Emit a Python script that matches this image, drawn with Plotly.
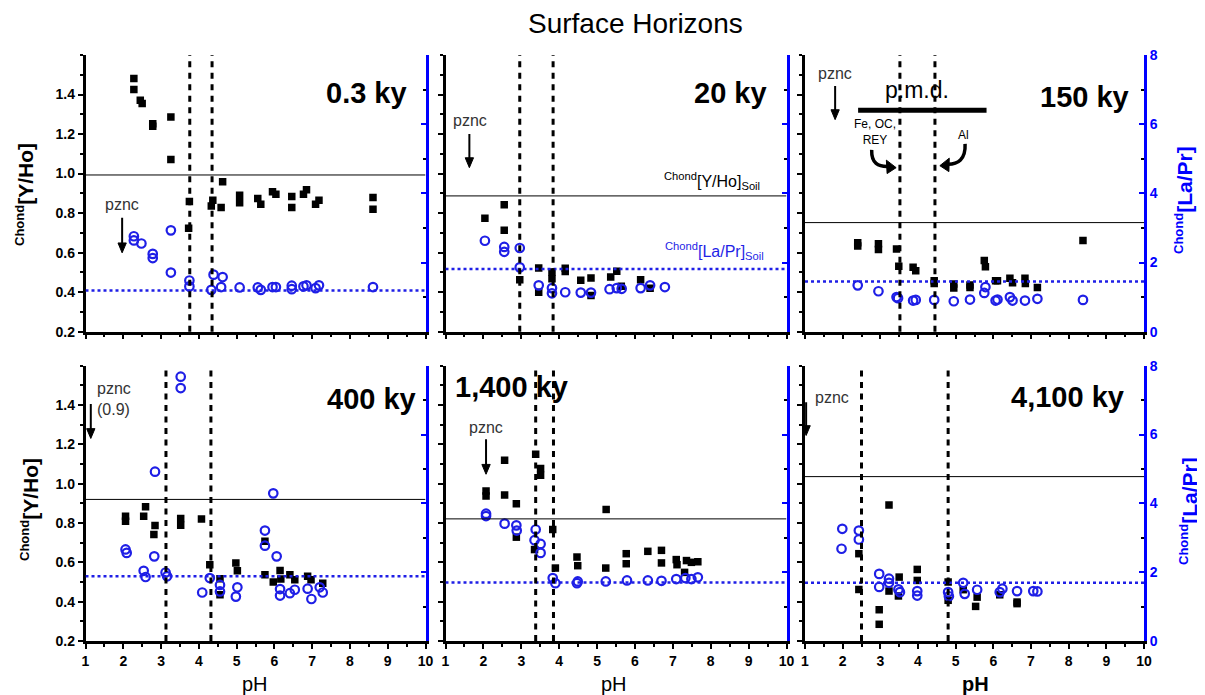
import plotly.graph_objects as go

# ---------------- data ----------------
# Panel 1: 0.3 ky
p1_sq_ph = [2.28, 2.28, 2.45, 2.50, 2.78, 2.78, 3.26, 3.26, 3.75, 3.73, 4.33, 4.37, 4.63, 4.59,
            5.08, 5.08, 5.56, 5.64, 5.95, 6.04, 6.46, 6.46, 6.77, 6.85, 7.09, 7.18, 8.61, 8.61]
p1_sq_yho = [1.481, 1.425, 1.371, 1.354, 1.252, 1.240, 1.286, 1.071, 0.859, 0.723, 0.836, 0.865, 0.959, 0.828,
             0.891, 0.853, 0.874, 0.845, 0.908, 0.896, 0.884, 0.828, 0.896, 0.918, 0.845, 0.865, 0.879, 0.819]
p1_ci_ph = [2.28, 2.28, 2.48, 2.78, 2.78, 3.26, 3.26, 3.75, 3.75, 4.33, 4.39, 4.63, 4.59, 5.08,
            5.56, 5.64, 5.95, 6.04, 6.46, 6.46, 6.77, 6.85, 7.09, 7.18, 8.61]
p1_ci_lapr = [2.76, 2.64, 2.55, 2.25, 2.13, 2.93, 1.71, 1.48, 1.31, 1.21, 1.65, 1.58, 1.29, 1.28,
              1.28, 1.21, 1.29, 1.29, 1.33, 1.23, 1.31, 1.34, 1.26, 1.34, 1.29]

# Panel 2: 20 ky
p2_sq_ph = [2.04, 2.55, 2.55, 2.96, 3.46, 3.46, 3.81, 3.81, 4.16, 4.16, 4.57, 4.84, 4.84, 5.36, 5.52, 5.64, 6.15, 6.40]
p2_sq_yho = [0.774, 0.842, 0.713, 0.463, 0.522, 0.400, 0.502, 0.468, 0.521, 0.505, 0.460, 0.472, 0.383, 0.477,
             0.506, 0.430, 0.463, 0.420]
p2_ci_ph = [2.04, 2.55, 2.55, 2.96, 2.96, 3.46, 3.81, 3.81, 4.16, 4.57, 4.84, 5.33, 5.52, 5.65, 6.15, 6.40, 6.79]
p2_ci_lapr = [2.63, 2.45, 2.31, 2.42, 1.86, 1.34, 1.26, 1.11, 1.14, 1.13, 1.13, 1.23, 1.26, 1.24, 1.26, 1.34, 1.29]

# Panel 3: 150 ky
p3_sq_ph = [2.40, 2.40, 2.95, 2.95, 3.43, 3.49, 3.87, 3.94, 4.43, 4.43, 4.95, 4.95, 5.38, 5.38, 5.76, 5.79,
            6.06, 6.11, 6.44, 6.51, 6.84, 6.85, 7.17, 8.38]
p3_sq_yho = [0.650, 0.633, 0.645, 0.616, 0.619, 0.531, 0.526, 0.509, 0.458, 0.444, 0.441, 0.421, 0.436, 0.424,
             0.560, 0.529, 0.458, 0.458, 0.470, 0.448, 0.470, 0.444, 0.424, 0.662]
p3_ci_ph = [2.40, 2.95, 3.43, 3.47, 3.87, 3.94, 4.43, 4.95, 5.38, 5.76, 5.79, 6.06, 6.11, 6.44, 6.51, 6.84, 7.17, 8.38]
p3_ci_lapr = [1.34, 1.17, 1.00, 0.97, 0.90, 0.92, 0.92, 0.88, 0.93, 1.12, 1.29, 0.90, 0.93, 1.00, 0.90, 0.90, 0.95, 0.92]

# Panel 4: 400 ky
p4_sq_ph = [2.06, 2.06, 2.54, 2.59, 2.84, 2.81, 3.52, 3.52, 4.07, 4.29, 4.56, 4.56, 4.98, 5.02, 5.75, 5.75,
            5.97, 6.15, 6.17, 6.41, 6.54, 6.88, 6.97, 7.28]
p4_sq_yho = [0.835, 0.809, 0.835, 0.883, 0.787, 0.741, 0.823, 0.789, 0.821, 0.588, 0.517, 0.435, 0.597, 0.557,
             0.707, 0.537, 0.500, 0.559, 0.515, 0.537, 0.511, 0.529, 0.511, 0.494]
p4_ci_ph = [2.06, 2.09, 2.54, 2.59, 2.84, 2.82, 3.12, 3.16, 3.52, 3.52, 4.09, 4.29, 4.56, 4.56, 4.98, 5.02,
            5.75, 5.75, 5.97, 6.06, 6.15, 6.15, 6.41, 6.54, 6.88, 6.98, 7.20, 7.28]
p4_ci_lapr = [2.66, 2.56, 2.04, 1.86, 4.92, 2.46, 1.99, 1.88, 7.68, 7.35, 1.41, 1.83, 1.63, 1.44, 1.29, 1.56,
              3.21, 2.77, 4.29, 2.46, 1.51, 1.32, 1.39, 1.49, 1.52, 1.22, 1.56, 1.41]

# Panel 5: 1,400 ky
p5_sq_ph = [2.07, 2.07, 2.56, 2.56, 2.87, 2.87, 3.38, 3.35, 3.51, 3.51, 3.83, 3.90, 4.47, 4.49, 5.24, 5.23,
            5.77, 5.77, 6.34, 6.70, 6.70, 7.09, 7.11, 7.31, 7.36, 7.49, 7.66]
p5_sq_yho = [0.963, 0.937, 1.119, 0.942, 0.898, 0.728, 1.150, 0.665, 1.077, 1.043, 0.767, 0.571, 0.627, 0.583,
             0.869, 0.571, 0.644, 0.593, 0.656, 0.661, 0.597, 0.614, 0.588, 0.549, 0.609, 0.600, 0.603]
p5_ci_ph = [2.07, 2.07, 2.56, 2.87, 2.88, 3.38, 3.35, 3.51, 3.51, 3.83, 3.90, 4.47, 4.49, 5.23, 5.79, 6.34,
            6.70, 7.09, 7.33, 7.49, 7.66]
p5_ci_lapr = [3.70, 3.63, 3.41, 3.36, 3.21, 3.24, 2.93, 2.82, 2.56, 1.83, 1.68, 1.68, 1.73, 1.73, 1.76, 1.76,
              1.75, 1.80, 1.83, 1.80, 1.85]

# Panel 6: 4,100 ky
p6_sq_ph = [3.23, 2.43, 2.43, 2.97, 2.97, 3.23, 3.48, 3.50, 3.98, 3.98, 4.80, 4.80, 5.20, 5.53, 5.57, 6.17, 6.63, 6.63]
p6_sq_yho = [0.892, 0.644, 0.462, 0.359, 0.285, 0.454, 0.429, 0.525, 0.564, 0.508, 0.500, 0.407, 0.461, 0.376,
             0.423, 0.435, 0.398, 0.390]
p6_ci_ph = [1.99, 1.97, 2.43, 2.43, 2.97, 2.97, 3.23, 3.23, 3.48, 3.52, 3.98, 3.98, 4.80, 4.82, 5.20, 5.24,
            5.57, 6.17, 6.24, 6.63, 7.06, 7.17]
p6_ci_lapr = [3.26, 2.68, 3.21, 2.95, 1.95, 1.57, 1.81, 1.69, 1.50, 1.42, 1.45, 1.32, 1.42, 1.30, 1.69, 1.37,
              1.49, 1.42, 1.52, 1.45, 1.45, 1.44]

panel_labels = ["0.3 ky", "20 ky", "150 ky", "400 ky", "1,400 ky", "4,100 ky"]
yho_soil = [0.993, 0.887, 0.752, 0.920, 0.821, 1.036]      # solid black reference line
lapr_soil = [1.19, 1.81, 1.45, 1.88, 1.70, 1.69]           # dotted blue reference line
pmd_low = [3.76, 2.96, 3.52, 3.13, 3.38, 2.50]             # dashed vertical lines
pmd_high = [4.35, 3.84, 4.45, 4.32, 3.85, 4.80]
pznc_ph = [1.97, 1.63, 1.80, 1.14, 2.07, 1.03]
pznc_labels = ["pznc", "pznc", "pznc", "pznc<br>(0.9)", "pznc", "pznc"]

x_ticks = [1, 2, 3, 4, 5, 6, 7, 8, 9, 10]
yho_ticks = [0.2, 0.4, 0.6, 0.8, 1.0, 1.2, 1.4]
lapr_ticks = [0, 2, 4, 6, 8]

# ---------------- styling ----------------
FONT = "Liberation Sans, Arial, sans-serif"
BLUE = "#1f1fe6"
AXBLUE = "#0000ff"
OFF = 8  # page body margin offset
W, H = 1205 - OFF, 695 - OFF


def fx(p):
    return (p - OFF) / W


def fy(p):
    return 1 - (p - OFF) / H


cols = [[fx(85.5), fx(425.5)], [fx(445.5), fx(786.5)], [fx(805), fx(1144)]]
rows = [[fy(331.7), fy(55)], [fy(641), fy(365.7)]]


def xn(n):
    return "x" if n == 1 else f"x{n}"


def yn(n):
    return "y" if n == 1 else f"y{n}"


fig = go.Figure()
layout = dict(
    template="none",
    width=W, height=H, margin=dict(l=0, r=0, t=0, b=0, pad=0, autoexpand=False),
    plot_bgcolor="white", paper_bgcolor="white", showlegend=False,
    font=dict(family=FONT, color="black"),
)

panels = [
    (p1_sq_ph, p1_sq_yho, p1_ci_ph, p1_ci_lapr),
    (p2_sq_ph, p2_sq_yho, p2_ci_ph, p2_ci_lapr),
    (p3_sq_ph, p3_sq_yho, p3_ci_ph, p3_ci_lapr),
    (p4_sq_ph, p4_sq_yho, p4_ci_ph, p4_ci_lapr),
    (p5_sq_ph, p5_sq_yho, p5_ci_ph, p5_ci_lapr),
    (p6_sq_ph, p6_sq_yho, p6_ci_ph, p6_ci_lapr),
]

shapes = []
annotations = []

TICKFONT = dict(size=14, weight="bold", family=FONT, color="black")

for i in range(6):
    n = i + 1
    r, c = divmod(i, 3)
    xd, yd = cols[c], rows[r]
    xa, ya, yr = xn(n), yn(n), yn(n + 6)
    bottom = (r == 1)
    layout["xaxis" if n == 1 else f"xaxis{n}"] = dict(
        domain=xd, anchor=ya, range=[1, 10], tickvals=x_ticks, ticks="outside", ticklen=5, tickwidth=2,
        tickcolor="black", showline=True, linecolor="black", linewidth=2.5, showgrid=False, zeroline=False,
        showticklabels=bottom, tickfont=TICKFONT, automargin=False,
        minor=dict(dtick=0.5, tick0=1, ticks="outside", ticklen=3, tickwidth=1.5, tickcolor="black"),
    )
    layout[f"xaxis{n+6}"] = dict(
        overlaying=xa, side="top", anchor=ya, range=[1, 10], tickvals=x_ticks, ticks="inside", ticklen=5,
        tickwidth=2, tickcolor="black", showline=True, linecolor="black", linewidth=2.5, showgrid=False,
        zeroline=False, showticklabels=False, automargin=False,
        minor=dict(dtick=0.5, tick0=1, ticks="inside", ticklen=3, tickwidth=1.5, tickcolor="black"),
    )
    layout["yaxis" if n == 1 else f"yaxis{n}"] = dict(
        domain=yd, anchor=xa, range=[0.2, 1.6], tickvals=yho_ticks, tickformat=".1f", ticks="outside",
        ticklen=5, tickwidth=2, tickcolor="black", showline=True, linecolor="black", linewidth=2.5,
        showgrid=False, zeroline=False, showticklabels=(c == 0), tickfont=TICKFONT, automargin=False,
        minor=dict(dtick=0.1, tick0=0.2, ticks="outside", ticklen=3, tickwidth=1.5, tickcolor="black"),
    )
    layout[f"yaxis{n+6}"] = dict(
        overlaying=ya, side="right", anchor=xa, range=[0, 8], tickvals=lapr_ticks, ticks="inside", ticklen=5,
        tickwidth=2, tickcolor=AXBLUE, showline=True, linecolor=AXBLUE, linewidth=3, showgrid=False,
        zeroline=False, showticklabels=(c == 2), automargin=False,
        tickfont=dict(size=14, weight="bold", family=FONT, color=AXBLUE),
        minor=dict(dtick=1, tick0=0, ticks="inside", ticklen=3, tickwidth=1.5, tickcolor="black"),
    )

    sq_ph, sq_y, ci_ph, ci_y = panels[i]
    fig.add_trace(go.Scatter(x=sq_ph, y=sq_y, xaxis=xa, yaxis=ya, mode="markers", hoverinfo="skip",
                             marker=dict(symbol="square", size=7.5, color="black")))
    fig.add_trace(go.Scatter(x=ci_ph, y=ci_y, xaxis=xa, yaxis=yr, mode="markers", hoverinfo="skip",
                             marker=dict(symbol="circle-open", size=8.5, color=BLUE,
                                         line=dict(width=2.2, color=BLUE))))

    # reference lines
    shapes.append(dict(type="line", xref=xa, yref=ya, x0=1, x1=10, y0=yho_soil[i], y1=yho_soil[i],
                       line=dict(color="black", width=1)))
    shapes.append(dict(type="line", xref=xa, yref=yr, x0=1, x1=10, y0=lapr_soil[i], y1=lapr_soil[i],
                       line=dict(color=BLUE, width=2.5, dash="dot")))
    for v in (pmd_low[i], pmd_high[i]):
        shapes.append(dict(type="line", xref=xa, yref=f"{ya} domain", x0=v, x1=v, y0=0, y1=1,
                           line=dict(color="black", width=3, dash="6px,5.5px")))

# panel labels
label_pos = [(9.56, 1.41, "right"), (9.53, 1.41, "right"), (9.66, 1.39, "right"),
             (9.81, 1.43, "right"), (1.19, 1.49, "left"), (9.51, 1.44, "right")]
for i, (lx, ly, anc) in enumerate(label_pos):
    annotations.append(dict(text=panel_labels[i], x=lx, y=ly, xref=xn(i + 1), yref=yn(i + 1),
                            xanchor=anc, yanchor="middle", showarrow=False,
                            font=dict(size=29, weight="bold", family=FONT, color="black")))


def down_arrow(xa, ya, x, y_from, y_to, w=2.0):
    hx, hy = 0.11, 0.05
    shapes.append(dict(type="line", xref=xa, yref=ya, x0=x, x1=x, y0=y_from, y1=y_to + hy * 0.8,
                       line=dict(color="black", width=w)))
    shapes.append(dict(type="path", xref=xa, yref=ya, fillcolor="black", line=dict(color="black", width=1),
                       path=f"M {x},{y_to} L {x - hx},{y_to + hy} L {x + hx},{y_to + hy} Z"))


# pznc labels and arrows
pznc_text = [(1.97, 0.845, "center"), (1.64, 1.27, "center"), (1.80, 1.505, "center"),
             (1.25, 1.43, "left"), (2.07, 1.286, "center"), (1.71, 1.44, "center")]
pznc_arrow = [(0.777, 0.599), (1.20, 1.03), (1.443, 1.273), (1.405, 1.23), (1.226, 1.048), (1.414, 1.245)]
for i in range(6):
    xa, ya = xn(i + 1), yn(i + 1)
    tx, ty, anc = pznc_text[i]
    annotations.append(dict(text=pznc_labels[i], x=tx, y=ty, xref=xa, yref=ya, showarrow=False, align="left",
                            xanchor=anc, yanchor="middle",
                            font=dict(size=16, color="#333333", family=FONT)))
    y0, y1 = pznc_arrow[i]
    down_arrow(xa, ya, pznc_ph[i], y0, y1)

# panel 2 soil labels
annotations.append(dict(text="<sup>Chond</sup>[Y/Ho]<sub>Soil</sub>", x=9.36, y=0.96, xref="x2", yref="y2",
                        xanchor="right", yanchor="middle", showarrow=False,
                        font=dict(size=16, color="black", family=FONT)))
annotations.append(dict(text="<sup>Chond</sup>[La/Pr]<sub>Soil</sub>", x=9.45, y=0.607, xref="x2", yref="y2",
                        xanchor="right", yanchor="middle", showarrow=False,
                        font=dict(size=16, color=BLUE, family=FONT)))

# panel 3 p.m.d. annotations
shapes.append(dict(type="line", xref="x3", yref="y3", x0=2.41, x1=5.82, y0=1.32, y1=1.32,
                   line=dict(color="black", width=5)))
annotations.append(dict(text="p.m.d.", x=3.97, y=1.425, xref="x3", yref="y3", showarrow=False,
                        yanchor="middle", font=dict(size=23, color="black", family=FONT)))
annotations.append(dict(text="Fe, OC,<br>REY", x=2.85, y=1.21, xref="x3", yref="y3", showarrow=False,
                        font=dict(size=12, color="black", family=FONT)))
annotations.append(dict(text="Al", x=5.22, y=1.196, xref="x3", yref="y3", showarrow=False,
                        font=dict(size=12, color="black", family=FONT)))
# curved arrows (Fe -> right, Al -> left)
shapes.append(dict(type="path", xref="x3", yref="y3", line=dict(color="black", width=3.5),
                   path="M 2.77,1.12 C 2.76,1.05 2.95,1.035 3.20,1.036"))
shapes.append(dict(type="path", xref="x3", yref="y3", fillcolor="black", line=dict(color="black", width=1),
                   path="M 3.42,1.030 L 3.16,1.068 L 3.18,1.000 Z"))
shapes.append(dict(type="path", xref="x3", yref="y3", line=dict(color="black", width=3.5),
                   path="M 5.25,1.15 C 5.27,1.07 5.05,1.047 4.80,1.047"))
shapes.append(dict(type="path", xref="x3", yref="y3", fillcolor="black", line=dict(color="black", width=1),
                   path="M 4.58,1.040 L 4.83,1.078 L 4.82,1.010 Z"))

# axis titles
for yc, xc in ((195, 24), (510, 29)):
    annotations.append(dict(text="<sup><span style='font-size:13px'>Chond</span></sup>[Y/Ho]", x=fx(xc),
                            y=fy(yc), xref="paper", yref="paper", textangle=-90, showarrow=False,
                            xanchor="center", yanchor="middle",
                            font=dict(size=21, weight="bold", color="black", family=FONT)))
for yc, xc in ((200, 1183), (511, 1188)):
    annotations.append(dict(text="<sup><span style='font-size:13px'>Chond</span></sup>[La/Pr]", x=fx(xc),
                            y=fy(yc), xref="paper",
                            yref="paper", textangle=-90, showarrow=False, xanchor="center", yanchor="middle",
                            font=dict(size=21, weight="bold", color=AXBLUE, family=FONT)))
for xc, bold in ((255, False), (614, False), (975, True)):
    annotations.append(dict(text="pH", x=fx(xc), y=fy(684), xref="paper", yref="paper",
                            showarrow=False, xanchor="center", yanchor="middle",
                            font=dict(size=20, weight="bold" if bold else "normal", color="black", family=FONT)))
annotations.append(dict(text="Surface Horizons", x=fx(635), y=fy(24), xref="paper", yref="paper",
                        showarrow=False, xanchor="center", yanchor="middle",
                        font=dict(size=28, color="black", family=FONT)))

layout["shapes"] = shapes
layout["annotations"] = annotations
fig.update_layout(**layout)
fig.write_html("out.html")
